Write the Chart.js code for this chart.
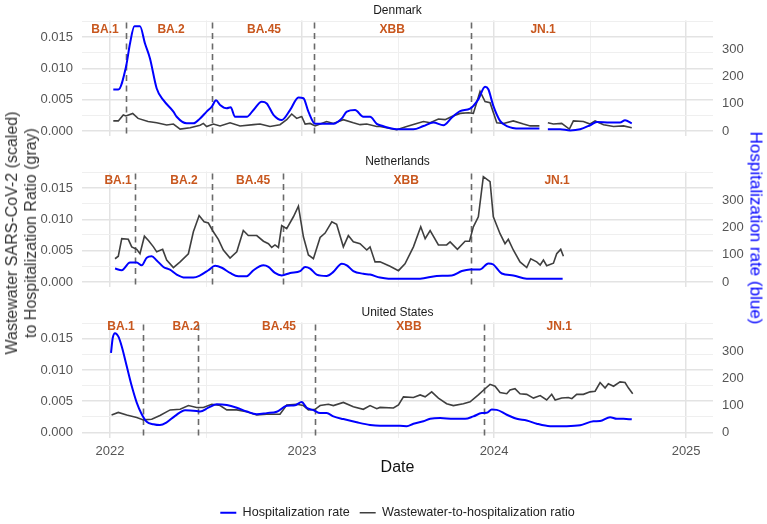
<!DOCTYPE html>
<html>
<head>
<meta charset="utf-8">
<script src="https://cdn.jsdelivr.net/npm/chart.js"></script>
<style>
  body { margin: 0; background: #fff; }
  #wrap { position: relative; width: 767px; height: 524px; background: #fff; font-family: "Liberation Sans", Arial, sans-serif; }
  canvas { position: absolute; left: 0; }
  .ytitle { position: absolute; line-height: 19px; text-align: center; white-space: nowrap; }
  #leftTitle { left: 21px; top: 233px; font-size: 16px; color: #333; transform: translate(-50%, -50%) rotate(-90deg); }
  #rightTitle { left: 756px; top: 228px; font-size: 17px; color: #0000ff; transform: translate(-50%, -50%) rotate(90deg); }
</style>
</head>
<body>
<div id="wrap">
  <canvas id="dk" width="767" height="153" style="top:0px"></canvas>
  <canvas id="nl" width="767" height="153" style="top:151px"></canvas>
  <canvas id="us" width="767" height="222" style="top:302px"></canvas>
  <div id="leftTitle" class="ytitle">Wastewater SARS-CoV-2 (scaled)<br>to Hospitalization Ratio (gray)</div>
  <div id="rightTitle" class="ytitle">Hospitalization rate (blue)</div>
</div>
<script>
// axis ticks
const xGrid = [2022, 2022.5, 2023, 2023.5, 2024, 2024.5, 2025];
const yGrid = [0, 0.0025, 0.005, 0.0075, 0.01, 0.0125, 0.015, 0.0175];
const rightTicks = [0, 100, 200, 300];
const variantNames = ["BA.1", "BA.2", "BA.45", "XBB", "JN.1"];

// Denmark
const dkSplits = [2022.083, 2022.531, 2023.063, 2023.880];
const dkLabelDates = [2021.974, 2022.318, 2022.802, 2023.469, 2024.255];
const dkHospDates = [2022.017, 2022.043, 2022.083, 2022.104, 2022.127, 2022.156, 2022.182, 2022.208, 2022.243, 2022.278,
  2022.330, 2022.347, 2022.399, 2022.434, 2022.469, 2022.503, 2022.530, 2022.552, 2022.573, 2022.608,
  2022.628, 2022.651, 2022.712, 2022.747, 2022.790, 2022.816, 2022.851, 2022.894, 2022.938, 2022.981,
  2023.007, 2023.033, 2023.068, 2023.120, 2023.163, 2023.207, 2023.233, 2023.276, 2023.319, 2023.354,
  2023.389, 2023.420, 2023.450, 2023.493, 2023.580, 2023.632, 2023.684, 2023.736, 2023.780, 2023.823,
  2023.875, 2023.918, 2023.953, 2023.970, 2023.996, 2024.031, 2024.066, 2024.135, 2024.236, 2024.258,
  2024.280, 2024.344, 2024.396, 2024.448, 2024.500, 2024.535, 2024.604, 2024.656, 2024.682, 2024.717];
const dkHosp = [152, 152, 235, 321, 384, 384, 321, 266, 156, 113,
  71, 52, 28, 28, 46, 71, 89, 113, 95, 83,
  87, 52, 52, 77, 107, 101, 59, 40, 77, 123,
  120, 71, 26, 26, 26, 46, 71, 77, 52, 52,
  26, 18, 12, 6, 6, 18, 31, 21, 49, 73,
  82, 116, 162, 153, 92, 37, 18, 9, 9, null,
  6, 6, 2, 6, 21, 33, 31, 31, 39, 28];
const dkRatioDates = [2022.017, 2022.043, 2022.069, 2022.083, 2022.118, 2022.146, 2022.198, 2022.243, 2022.295, 2022.330,
  2022.365, 2022.417, 2022.469, 2022.486, 2022.503, 2022.538, 2022.573, 2022.625, 2022.677, 2022.747,
  2022.781, 2022.833, 2022.885, 2022.920, 2022.946, 2022.972, 2022.998, 2023.016, 2023.042, 2023.068,
  2023.094, 2023.128, 2023.163, 2023.215, 2023.267, 2023.302, 2023.337, 2023.389, 2023.406, 2023.493,
  2023.545, 2023.597, 2023.632, 2023.667, 2023.710, 2023.745, 2023.780, 2023.823, 2023.866, 2023.892,
  2023.927, 2023.953, 2023.979, 2024.014, 2024.049, 2024.100, 2024.153, 2024.188, 2024.236, 2024.258,
  2024.280, 2024.309, 2024.352, 2024.392, 2024.413, 2024.465, 2024.500, 2024.526, 2024.570, 2024.622,
  2024.674, 2024.717];
const dkRatio = [0.0016, 0.0016, 0.00255, 0.0024, 0.0028, 0.0020, 0.0015, 0.0013, 0.00096, 0.0011,
  0.0003, 0.0005, 0.0009, 0.0012, 0.0007, 0.0011, 0.0008, 0.0013, 0.0008, 0.0010,
  0.0011, 0.0007, 0.0010, 0.0018, 0.0027, 0.0020, 0.0023, 0.0011, 0.0012, 0.0008,
  0.0011, 0.0015, 0.0012, 0.0018, 0.0013, 0.0010, 0.0011, 0.0007, 0.0007, 0.0002,
  0.0007, 0.0012, 0.0015, 0.0013, 0.0019, 0.0018, 0.0023, 0.0028, 0.0029, 0.0028,
  0.0063, 0.0047, 0.0045, 0.0013, 0.0012, 0.0016, 0.0011, 0.0008, 0.0008, null,
  0.0013, 0.0011, 0.0012, 0.0003, 0.0016, 0.0015, 0.0011, 0.0016, 0.0010, 0.0007,
  0.0008, 0.0005];

// Netherlands
const nlSplits = [2022.130, 2022.531, 2022.901, 2023.880];
const nlLabelDates = [2022.042, 2022.385, 2022.745, 2023.542, 2024.328];
const nlHospDates = [2022.026, 2022.061, 2022.104, 2022.139, 2022.165, 2022.191, 2022.217, 2022.243, 2022.278, 2022.312,
  2022.347, 2022.391, 2022.434, 2022.469, 2022.512, 2022.547, 2022.582, 2022.625, 2022.668, 2022.712,
  2022.747, 2022.799, 2022.825, 2022.859, 2022.894, 2022.938, 2022.990, 2023.016, 2023.042, 2023.076,
  2023.128, 2023.163, 2023.207, 2023.233, 2023.267, 2023.319, 2023.354, 2023.406, 2023.450, 2023.493,
  2023.615, 2023.701, 2023.780, 2023.832, 2023.875, 2023.927, 2023.970, 2023.996, 2024.040, 2024.100,
  2024.170, 2024.274, 2024.357];
const nlHosp = [49, 43, 71, 71, 61, 89, 94, 79, 55, 45,
  27, 16, 16, 24, 43, 59, 52, 33, 21, 21,
  43, 61, 55, 33, 24, 33, 40, 55, 49, 27,
  22, 37, 67, 61, 40, 30, 27, 16, 12, 12,
  12, 22, 24, 40, 46, 46, 68, 64, 31, 24,
  12, 12, 12];
const nlRatioDates = [2022.026, 2022.043, 2022.061, 2022.095, 2022.113, 2022.139, 2022.156, 2022.179, 2022.200, 2022.226,
  2022.243, 2022.274, 2022.295, 2022.330, 2022.365, 2022.408, 2022.434, 2022.464, 2022.490, 2022.512,
  2022.538, 2022.564, 2022.590, 2022.625, 2022.660, 2022.694, 2022.720, 2022.764, 2022.799, 2022.825,
  2022.842, 2022.859, 2022.877, 2022.894, 2022.920, 2022.955, 2022.981, 2023.007, 2023.033, 2023.059,
  2023.094, 2023.120, 2023.155, 2023.180, 2023.215, 2023.241, 2023.267, 2023.302, 2023.337, 2023.354,
  2023.380, 2023.406, 2023.458, 2023.502, 2023.536, 2023.580, 2023.618, 2023.641, 2023.667, 2023.710,
  2023.753, 2023.771, 2023.809, 2023.849, 2023.872, 2023.892, 2023.918, 2023.944, 2023.979, 2023.996,
  2024.031, 2024.057, 2024.074, 2024.100, 2024.135, 2024.170, 2024.191, 2024.222, 2024.240, 2024.257,
  2024.274, 2024.309, 2024.326, 2024.347, 2024.361];
const nlRatio = [0.0037, 0.0041, 0.0069, 0.0068, 0.0056, 0.0052, 0.0045, 0.0073, 0.0066, 0.0056,
  0.0048, 0.0052, 0.0035, 0.0023, 0.0032, 0.0045, 0.0080, 0.0106, 0.0096, 0.0094,
  0.0080, 0.0068, 0.0051, 0.0038, 0.0048, 0.0082, 0.0074, 0.0074, 0.0065, 0.0061,
  0.0055, 0.0059, 0.0055, 0.0090, 0.0085, 0.0104, 0.0121, 0.0072, 0.0043, 0.0037,
  0.0071, 0.0078, 0.0096, 0.0092, 0.0056, 0.0074, 0.0064, 0.0061, 0.0051, 0.0056,
  0.0032, 0.0032, 0.0025, 0.0018, 0.0029, 0.0056, 0.0088, 0.0069, 0.0082, 0.0059,
  0.0059, 0.0064, 0.0052, 0.0065, 0.0065, 0.0088, 0.0104, 0.0168, 0.0160, 0.0104,
  0.0077, 0.0061, 0.0068, 0.0051, 0.0032, 0.0023, 0.0037, 0.0032, 0.0027, 0.0035,
  0.0026, 0.0030, 0.0045, 0.0052, 0.0041];

// United States
const usSplits = [2022.172, 2022.458, 2023.068, 2023.948];
const usLabelDates = [2022.057, 2022.396, 2022.880, 2023.557, 2024.339];
const usHospDates = [2022.005, 2022.014, 2022.026, 2022.043, 2022.061, 2022.087, 2022.113, 2022.139, 2022.165, 2022.191,
  2022.226, 2022.260, 2022.295, 2022.339, 2022.391, 2022.451, 2022.469, 2022.512, 2022.556, 2022.608,
  2022.660, 2022.712, 2022.764, 2022.816, 2022.868, 2022.920, 2022.964, 2022.998, 2023.024, 2023.059,
  2023.094, 2023.128, 2023.163, 2023.215, 2023.285, 2023.354, 2023.406, 2023.450, 2023.510, 2023.545,
  2023.580, 2023.632, 2023.667, 2023.719, 2023.788, 2023.849, 2023.892, 2023.936, 2023.962, 2023.988,
  2024.014, 2024.066, 2024.118, 2024.170, 2024.222, 2024.292, 2024.378, 2024.448, 2024.517, 2024.552,
  2024.604, 2024.639, 2024.674, 2024.717];
const usHosp = [293, 348, 366, 354, 317, 244, 171, 110, 67, 39,
  30, 27, 37, 61, 82, 79, 77, 91, 104, 101,
  91, 77, 67, 71, 76, 98, 100, 112, 91, 82,
  71, 71, 59, 49, 37, 27, 24, 24, 24, 23,
  32, 41, 50, 53, 50, 50, 59, 71, 72, 84,
  83, 65, 50, 44, 32, 23, 23, 26, 41, 42,
  56, 50, 50, 48];
const usRatioDates = [2022.008, 2022.043, 2022.087, 2022.139, 2022.174, 2022.217, 2022.260, 2022.313, 2022.365, 2022.408,
  2022.451, 2022.486, 2022.530, 2022.573, 2022.608, 2022.660, 2022.712, 2022.764, 2022.816, 2022.885,
  2022.920, 2022.972, 2023.007, 2023.033, 2023.068, 2023.094, 2023.137, 2023.163, 2023.215, 2023.267,
  2023.319, 2023.354, 2023.389, 2023.406, 2023.476, 2023.502, 2023.528, 2023.580, 2023.615, 2023.641,
  2023.675, 2023.710, 2023.753, 2023.788, 2023.840, 2023.875, 2023.918, 2023.953, 2023.979, 2024.005,
  2024.031, 2024.066, 2024.083, 2024.109, 2024.135, 2024.170, 2024.205, 2024.240, 2024.274, 2024.300,
  2024.318, 2024.352, 2024.387, 2024.405, 2024.430, 2024.465, 2024.500, 2024.526, 2024.552, 2024.578,
  2024.595, 2024.622, 2024.656, 2024.682, 2024.700, 2024.722];
const usRatio = [0.0028, 0.0032, 0.0028, 0.0024, 0.0020, 0.0021, 0.0027, 0.0036, 0.0037, 0.0043,
  0.0040, 0.0040, 0.0045, 0.0043, 0.0036, 0.0036, 0.0033, 0.0028, 0.0029, 0.0029,
  0.0044, 0.0045, 0.0043, 0.0036, 0.0037, 0.0043, 0.0045, 0.0043, 0.0048, 0.0041,
  0.0037, 0.0043, 0.0038, 0.0040, 0.0039, 0.0044, 0.0057, 0.0056, 0.0060, 0.0057,
  0.0065, 0.0055, 0.0046, 0.0043, 0.0046, 0.0049, 0.0060, 0.0070, 0.0077, 0.0074,
  0.0064, 0.0062, 0.0068, 0.0070, 0.0062, 0.0061, 0.0055, 0.0059, 0.0052, 0.0061,
  0.0052, 0.0055, 0.0056, 0.0054, 0.0061, 0.0061, 0.0065, 0.0066, 0.0080, 0.0071,
  0.0078, 0.0074, 0.0081, 0.0080, 0.0071, 0.0062];

// shared ranges (right axis = left axis * rightFactor)
const xMin = 2021.854, xMax = 2025.14;
const yMin = -0.00084, yMax = 0.01764;
const rightFactor = 23000;

const FONT = '"Liberation Sans", Arial, sans-serif';
Chart.defaults.font.family = FONT;

// dashed variant boundaries + variant names
const variantPlugin = {
  id: "variants",
  beforeDatasetsDraw(chart, args, opts) {
    const { ctx, chartArea, scales: { x } } = chart;
    ctx.save();
    ctx.setLineDash([6, 4.5]);
    ctx.strokeStyle = "#6a6a6a";
    ctx.lineWidth = 1.6;
    opts.splits.forEach(d => {
      const px = Math.round(x.getPixelForValue(d)) + 0.5;
      ctx.beginPath();
      ctx.moveTo(px, chartArea.top + 2);
      ctx.lineTo(px, chartArea.bottom - 2);
      ctx.stroke();
    });
    ctx.restore();
  },
  afterDatasetsDraw(chart, args, opts) {
    const { ctx, scales: { x, y } } = chart;
    ctx.save();
    ctx.font = "bold 12px " + FONT;
    ctx.fillStyle = "#c8571e";
    ctx.textAlign = "center";
    ctx.textBaseline = "middle";
    variantNames.forEach((name, i) => {
      ctx.fillText(name, x.getPixelForValue(opts.labelDates[i]), y.getPixelForValue(opts.labelY));
    });
    ctx.restore();
  }
};

function toPoints(dates, values) {
  return dates.map((d, i) => ({ x: d, y: values[i] }));
}

function makePanel(id, country, hospDates, hosp, ratioDates, ratio, splits, labelDates, labelY, isBottom) {
  const ctx = document.getElementById(id).getContext("2d");
  return new Chart(ctx, {
    type: "line",
    data: {
      datasets: [
        {
          label: "Hospitalization rate",
          data: toPoints(hospDates, hosp),
          yAxisID: "yR",
          borderColor: "#0000ff",
          backgroundColor: "#0000ff",
          borderWidth: 2,
          pointRadius: 0,
          pointStyle: "line",
          cubicInterpolationMode: "monotone",
          spanGaps: false
        },
        {
          label: "Wastewater-to-hospitalization ratio",
          data: toPoints(ratioDates, ratio),
          yAxisID: "y",
          borderColor: "#3f3f3f",
          backgroundColor: "#3f3f3f",
          borderWidth: 1.6,
          pointRadius: 0,
          pointStyle: "line",
          tension: 0,
          spanGaps: false
        }
      ]
    },
    options: {
      responsive: false,
      animation: false,
      layout: { padding: { bottom: isBottom ? -5 : 0 } },
      scales: {
        x: {
          type: "linear",
          min: xMin,
          max: xMax,
          afterBuildTicks: s => { s.ticks = xGrid.map(v => ({ value: v })); },
          afterFit: s => { s.height = isBottom ? 58.8 : 10; },
          border: { display: false },
          grid: {
            drawTicks: false,
            color: c => Number.isInteger(c.tick.value) ? "#e3e3e3" : "#efefef",
            lineWidth: c => Number.isInteger(c.tick.value) ? 1.5 : 1
          },
          ticks: {
            display: isBottom,
            autoSkip: false,
            maxRotation: 0,
            padding: 6,
            color: "#555",
            font: { size: 13 },
            callback: v => Number.isInteger(v) ? String(v) : ""
          },
          title: {
            display: isBottom,
            text: "Date",
            color: "#111",
            font: { size: 16 },
            padding: { top: 0, bottom: 19 }
          }
        },
        y: {
          position: "left",
          min: yMin,
          max: yMax,
          afterBuildTicks: s => { s.ticks = yGrid.map(v => ({ value: v })); },
          afterFit: s => { s.width = 82; },
          border: { display: false },
          grid: {
            drawTicks: false,
            color: c => c.index % 2 === 0 ? "#e3e3e3" : "#efefef",
            lineWidth: c => c.index % 2 === 0 ? 1.5 : 1
          },
          ticks: {
            autoSkip: false,
            padding: 9,
            color: "#555",
            font: { size: 13 },
            callback: (v, i) => i % 2 === 0 ? v.toFixed(3) : ""
          }
        },
        yR: {
          position: "right",
          min: yMin * rightFactor,
          max: yMax * rightFactor,
          afterBuildTicks: s => { s.ticks = rightTicks.map(v => ({ value: v })); },
          afterFit: s => { s.width = 54; },
          border: { display: false },
          grid: { display: false, drawTicks: false },
          ticks: {
            autoSkip: false,
            padding: 9,
            color: "#555",
            font: { size: 13 }
          }
        }
      },
      plugins: {
        title: {
          display: true,
          text: country,
          fullSize: false,
          color: "#1a1a1a",
          font: { size: 12, weight: "normal" },
          padding: { top: 3, bottom: 3 }
        },
        legend: {
          display: isBottom,
          position: "bottom",
          fullSize: false,
          labels: {
            usePointStyle: true,
            pointStyleWidth: 16,
            padding: 10,
            color: "#222",
            font: { size: 12.6 }
          }
        },
        tooltip: { enabled: false },
        variants: { splits: splits, labelDates: labelDates, labelY: labelY }
      }
    },
    plugins: [variantPlugin]
  });
}

makePanel("dk", "Denmark", dkHospDates, dkHosp, dkRatioDates, dkRatio, dkSplits, dkLabelDates, 0.0162, false);
makePanel("nl", "Netherlands", nlHospDates, nlHosp, nlRatioDates, nlRatio, nlSplits, nlLabelDates, 0.0162, false);
makePanel("us", "United States", usHospDates, usHosp, usRatioDates, usRatio, usSplits, usLabelDates, 0.0170, true);
</script>
</body>
</html>
